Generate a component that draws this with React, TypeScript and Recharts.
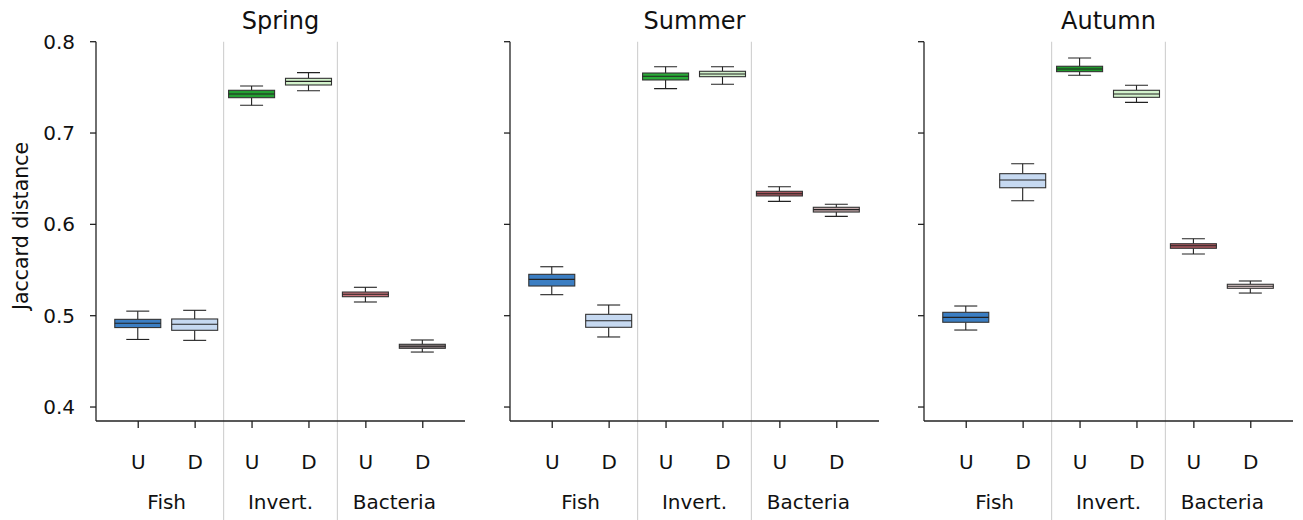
import React from 'react'
import { ComposedChart, Bar, XAxis, YAxis, ReferenceLine } from 'recharts'

const seasons = ['Spring', 'Summer', 'Autumn']
const positions = [1, 2, 3, 4, 5, 6]
const siteLabels = ['U', 'D', 'U', 'D', 'U', 'D']
const groupLabels = ['Fish', 'Invert.', 'Bacteria']
const groupCentres = [1.5, 3.5, 5.5]
const separators = [2.5, 4.5]
const yTicks = [0.4, 0.5, 0.6, 0.7, 0.8]

// [whisker low, q1, median, q3, whisker high] for Fish U/D, Invert. U/D, Bacteria U/D
const springStats = [
    [0.474, 0.487, 0.4917, 0.496, 0.505],
    [0.473, 0.484, 0.4906, 0.4964, 0.5059],
    [0.7304, 0.7387, 0.7427, 0.7468, 0.7515],
    [0.7463, 0.7526, 0.7566, 0.7599, 0.7661],
    [0.515, 0.5208, 0.5234, 0.5259, 0.5311],
    [0.4602, 0.4643, 0.4665, 0.4687, 0.4734],
]
const summerStats = [
    [0.523, 0.5325, 0.5398, 0.5453, 0.5536],
    [0.4767, 0.4873, 0.4945, 0.5015, 0.5117],
    [0.7486, 0.7581, 0.7621, 0.7657, 0.7726],
    [0.7534, 0.7617, 0.7646, 0.7676, 0.7726],
    [0.6252, 0.6311, 0.6336, 0.6362, 0.6412],
    [0.6088, 0.6135, 0.6161, 0.6187, 0.622],
]
const autumnStats = [
    [0.4843, 0.4928, 0.4982, 0.5037, 0.5106],
    [0.6259, 0.6401, 0.6486, 0.6555, 0.6664],
    [0.7632, 0.7672, 0.7701, 0.7731, 0.7822],
    [0.7336, 0.7391, 0.7427, 0.7468, 0.7523],
    [0.5675, 0.5738, 0.5766, 0.5788, 0.5843],
    [0.5248, 0.53, 0.5322, 0.5344, 0.538],
]

const springColors = ['#3b7ec3', '#c6d9f1', '#23a032', '#d3f3cc', '#c8727a', '#8e8082']
const summerColors = ['#3b7ec3', '#c6d9f1', '#2aac38', '#cfeec8', '#a9555e', '#c3a9ab']
const autumnColors = ['#3b7ec3', '#c6d9f1', '#1f9a2b', '#d3f3cc', '#b05960', '#efdada']

const allStats = [springStats, summerStats, autumnStats]
const allColors = [springColors, summerColors, autumnColors]

const FONT = '"DejaVu Sans", Arial, sans-serif'
const CHART_W = 475
const CHART_H = 520
const PANEL_STEP = 414
const X_DOMAIN = [0.258, 6.742]

const BoxShape = (props: any) => {
    const { x, y, width, height, payload } = props
    const [lo, q1, med, q3, hi] = payload.stats
    const top = Math.min(y, y + height)
    const span = Math.abs(height)
    const py = (v: number) => top + ((hi - v) / (hi - lo)) * span
    const cx = x + width / 2
    const cap = width / 4
    return (
        <g>
            <line x1={cx} x2={cx} y1={py(hi)} y2={py(q3)} stroke="#222" strokeWidth={1.1} />
            <line x1={cx} x2={cx} y1={py(q1)} y2={py(lo)} stroke="#222" strokeWidth={1.1} />
            <line x1={cx - cap} x2={cx + cap} y1={py(hi)} y2={py(hi)} stroke="#222" strokeWidth={1.1} />
            <line x1={cx - cap} x2={cx + cap} y1={py(lo)} y2={py(lo)} stroke="#222" strokeWidth={1.1} />
            <rect x={x} y={py(q3)} width={width} height={py(q1) - py(q3)} fill={payload.color} stroke="#333" strokeWidth={1.1} />
            <line x1={x} x2={x + width} y1={py(med)} y2={py(med)} stroke="#222" strokeWidth={1.1} />
        </g>
    )
}

function Panel({ index }: { index: number }) {
    const rows = positions.map((pos, i) => ({
        pos,
        stats: allStats[index][i],
        color: allColors[index][i],
    }))
    const showLabels = index === 0

    return (
        <div style={{ position: 'absolute', left: index * PANEL_STEP, top: 0 }}>
            <ComposedChart width={CHART_W} height={CHART_H} data={rows} margin={{ top: 41.7, right: 10, bottom: 0, left: 0 }}>
                <XAxis
                    dataKey="pos"
                    type="number"
                    domain={X_DOMAIN}
                    allowDataOverflow
                    ticks={positions}
                    tickFormatter={(v: number) => siteLabels[v - 1]}
                    height={60}
                    tickSize={7}
                    tickMargin={27}
                    axisLine={{ stroke: '#222', strokeWidth: 1.3 }}
                    tickLine={{ stroke: '#222', strokeWidth: 1.3 }}
                    tick={{ fontSize: 20, fill: '#111', fontFamily: FONT }}
                    interval={0}
                />
                <XAxis
                    xAxisId="group"
                    dataKey="pos"
                    type="number"
                    domain={X_DOMAIN}
                    allowDataOverflow
                    ticks={groupCentres}
                    tickFormatter={(v: number) => groupLabels[groupCentres.indexOf(v)]}
                    height={39}
                    tickSize={0}
                    tickMargin={14}
                    axisLine={false}
                    tickLine={false}
                    tick={{ fontSize: 20, fill: '#111', fontFamily: FONT }}
                    interval={0}
                />
                <YAxis
                    type="number"
                    domain={[0.3847, 0.8]}
                    ticks={yTicks}
                    allowDataOverflow
                    width={96}
                    tickSize={6}
                    tickMargin={15}
                    tickFormatter={(v: number) => (showLabels ? v.toFixed(1) : '')}
                    axisLine={{ stroke: '#222', strokeWidth: 1.3 }}
                    tickLine={{ stroke: '#222', strokeWidth: 1.3 }}
                    tick={{ fontSize: 20, fill: '#111', fontFamily: FONT }}
                />
                {separators.map(s => (
                    <ReferenceLine
                        key={s}
                        segment={[{ x: s, y: 0.8 }, { x: s, y: 0.275 }]}
                        ifOverflow="visible"
                        stroke="#d2d2d2"
                        strokeWidth={1.2}
                    />
                ))}
                <Bar
                    dataKey={(d: any) => [d.stats[0], d.stats[4]]}
                    barSize={46}
                    shape={<BoxShape />}
                    isAnimationActive={false}
                />
            </ComposedChart>
            <div
                style={{
                    position: 'absolute',
                    left: 96,
                    width: 369,
                    top: 6,
                    textAlign: 'center',
                    fontFamily: FONT,
                    fontSize: 24,
                    lineHeight: '30px',
                    color: '#111',
                }}
            >
                {seasons[index]}
            </div>
        </div>
    )
}

export default function App() {
    return (
        <div style={{ position: 'absolute', left: 0, top: 0, width: 1303, height: 520, background: '#fff' }}>
            {seasons.map((s, i) => (
                <Panel key={s} index={i} />
            ))}
            <div
                style={{
                    position: 'absolute',
                    left: 21,
                    top: 226,
                    transform: 'translate(-50%, -50%) rotate(-90deg)',
                    whiteSpace: 'nowrap',
                    fontFamily: FONT,
                    fontSize: 20.5,
                    color: '#111',
                }}
            >
                Jaccard distance
            </div>
        </div>
    )
}
